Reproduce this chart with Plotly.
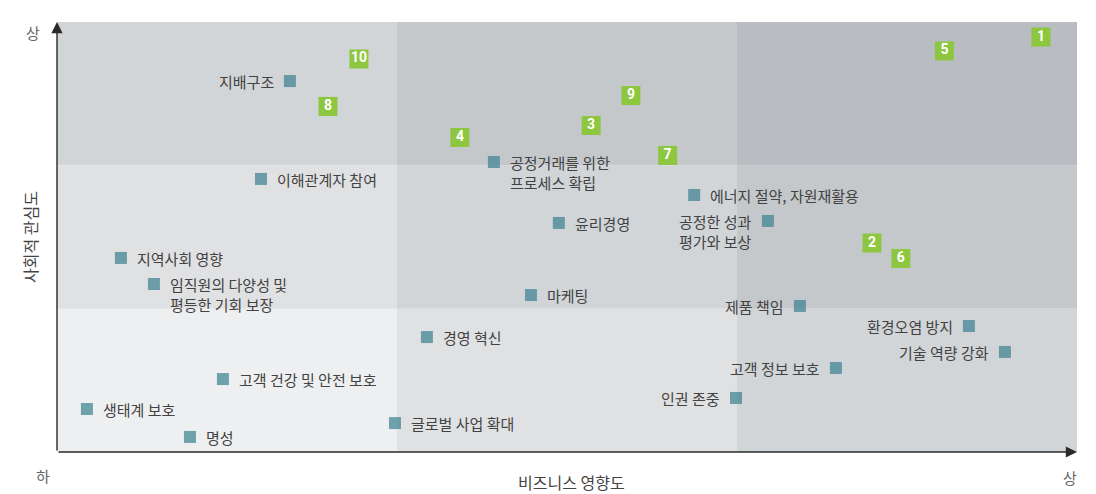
import plotly.graph_objects as go

# ---- data ----
issue_names = [
    "지배구조", "이해관계자 참여", "지역사회 영향", "임직원의 다양성 및<br>평등한 기회 보장",
    "고객 건강 및 안전 보호", "생태계 보호", "명성", "공정거래를 위한<br>프로세스 확립",
    "윤리경영", "마케팅", "경영 혁신", "글로벌 사업 확대", "에너지 절약, 자원재활용",
    "공정한 성과<br>평가와 보상", "제품 책임", "환경오염 방지", "기술 역량 강화",
    "고객 정보 보호", "인권 존중",
]
issue_business = [0.685, 0.600, 0.188, 0.285, 0.488, 0.088, 0.391, 1.285, 1.476, 1.394,
                  1.088, 0.994, 1.874, 2.091, 2.185, 2.682, 2.788, 2.291, 1.997]
issue_social = [2.588, 1.905, 1.354, 1.172, 0.509, 0.300, 0.105, 2.023, 1.598, 1.095,
                0.802, 0.202, 1.793, 1.612, 1.019, 0.879, 0.698, 0.586, 0.377]
label_side = ["left", "right", "right", "right", "right", "right", "right", "right",
              "right", "right", "right", "right", "right", "left", "left", "left",
              "left", "left", "left"]

core_rank = ["1", "2", "3", "4", "5", "6", "7", "8", "9", "10"]
core_business = [2.894, 2.397, 1.571, 1.185, 2.610, 2.482, 1.796, 0.797, 1.688, 0.888]
core_social = [2.895, 1.458, 2.278, 2.194, 2.798, 1.350, 2.069, 2.411, 2.487, 2.742]

x_title = "비즈니스 영향도"
y_title = "사회적 관심도"
low_label = "하"
high_label = "상"

# ---- style ----
FONT = "Noto Sans CJK KR"
TEXT_COLOR = "#424242"
TEAL = "rgba(60,130,145,0.72)"
GREEN = "#8dc63f"
cell_colors = [
    ["#eeeff1", "#e0e1e3", "#d2d5d8"],  # bottom row
    ["#e0e1e3", "#d2d5d8", "#c5c8cb"],  # middle row
    ["#d2d5d8", "#c5c8cb", "#b9bcc0"],  # top row
]

W, H = 1096, 494
L, T, R, B = 57, 22, 1096 - 1077, 494 - 452
pw, ph = W - L - R, H - T - B

fig = go.Figure()

shapes = []
for r in range(3):
    for c in range(3):
        shapes.append(dict(type="rect", xref="x", yref="y", x0=c, x1=c + 1, y0=r, y1=r + 1,
                           fillcolor=cell_colors[r][c], line=dict(width=0), layer="below"))

fig.add_trace(go.Scatter(
    x=issue_business, y=issue_social, mode="markers",
    marker=dict(symbol="square", size=12, color=TEAL, line=dict(width=0)),
    hoverinfo="skip", showlegend=False, cliponaxis=False,
))

fig.add_trace(go.Scatter(
    x=core_business, y=core_social, mode="markers+text", text=core_rank,
    textposition="middle center",
    textfont=dict(family="Roboto", size=14, color="white", weight="bold"),
    marker=dict(symbol="square", size=19, color=GREEN, line=dict(width=0)),
    hoverinfo="skip", showlegend=False, cliponaxis=False,
))

annotations = []
for name, bx, sy, side in zip(issue_names, issue_business, issue_social, label_side):
    annotations.append(dict(
        x=bx, y=sy, xref="x", yref="y", text=name, showarrow=False,
        xanchor="left" if side == "right" else "right",
        xshift=14 if side == "right" else -14,
        yanchor="top", yshift=12, align="left",
        font=dict(family=FONT, size=15, color=TEXT_COLOR),
    ))

# axis arrows
annotations.append(dict(x=0, y=3, ax=0, ay=0, xref="x", yref="y", axref="x", ayref="y",
                        text="", showarrow=True, arrowhead=2, arrowsize=1.6,
                        arrowwidth=1.4, arrowcolor="#2a2a2a", standoff=0))
annotations.append(dict(x=3, y=0, ax=0, ay=0, xref="x", yref="y", axref="x", ayref="y",
                        text="", showarrow=True, arrowhead=2, arrowsize=1.6,
                        arrowwidth=1.4, arrowcolor="#2a2a2a", standoff=0))

# axis texts (page pixel positions)
px_texts = [
    (33, 32, high_label, 15, "#666", 0),
    (43, 475, low_label, 15, "#666", 0),
    (1070, 477, high_label, 15, "#666", 0),
    (571, 482, x_title, 16, "#444", 0),
    (30, 237, y_title, 16, "#444", -90),
]
for x, y, t, s, col, ang in px_texts:
    annotations.append(dict(
        x=(x - L) / pw, y=(H - B - y) / ph, xref="paper", yref="paper",
        xanchor="center", yanchor="middle",
        text=t, showarrow=False, textangle=ang,
        font=dict(family=FONT, size=s, color=col),
    ))

fig.update_layout(
    width=W, height=H,
    margin=dict(l=L, r=R, t=T, b=B),
    paper_bgcolor="white", plot_bgcolor="white",
    xaxis=dict(range=[0, 3], showgrid=False, zeroline=False, showticklabels=False,
               showline=False, ticks="", fixedrange=True),
    yaxis=dict(range=[0, 3], showgrid=False, zeroline=False, showticklabels=False,
               showline=False, ticks="", fixedrange=True),
    shapes=shapes, annotations=annotations,
    font=dict(family=FONT),
)

fig.write_html(
    "out.html",
    config={"displayModeBar": False},
    post_script="document.body.style.margin='0';document.body.style.overflow='hidden';",
)
